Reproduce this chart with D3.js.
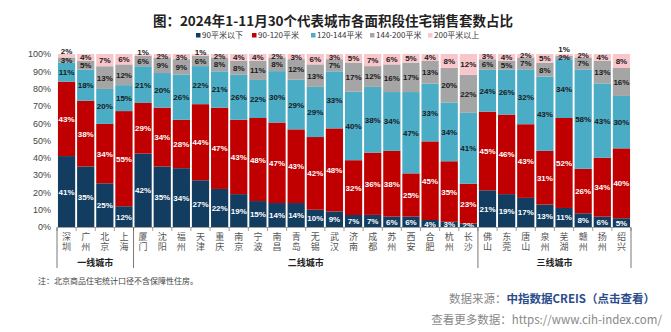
<!DOCTYPE html>
<html>
<head>
<meta charset="utf-8">
<script src="https://cdn.jsdelivr.net/npm/d3@7"></script>
<style>
  html, body { margin: 0; padding: 0; background: #fff; }
  svg { display: block; font-family: "Liberation Sans", Arial, "Noto Sans CJK SC", sans-serif; }
</style>
</head>
<body>
<svg id="chart" width="671" height="332"></svg>
<script>
const cities = ["深圳","广州","北京","上海","厦门","沈阳","福州","天津","重庆","南京","宁波","南昌","青岛","无锡","武汉","济南","成都","苏州","西安","合肥","杭州","长沙","佛山","东莞","唐山","泉州","芜湖","赣州","扬州","绍兴"];
const seriesNames = ["90平米以下","90-120平米","120-144平米","144-200平米","200平米以上"];
const below90   = [41,35,25,12,42,35,34,27,22,19,15,14,14,10, 9, 7, 7, 6, 6, 4, 3, 2,21,19,17,13,11, 8, 6, 5];
const s90to120  = [43,38,34,55,29,34,28,44,47,43,48,47,43,42,48,32,36,38,25,45,35,23,45,46,43,31,52,26,34,40];
const s120to144 = [11,18,20,15,21,20,26,22,21,26,22,30,29,29,33,40,38,34,47,33,34,41,24,26,32,43,34,58,43,30];
const s144to200 = [ 3, 5,13,12, 6, 9, 9, 6, 8, 8,11, 8,12,13, 7,17,12,16,17,13,20,22, 6, 5, 7, 8, 2, 7,13,16];
const above200  = [ 2, 4, 7, 6, 1, 2, 3, 1, 2, 4, 4, 2, 3, 6, 3, 5, 7, 6, 5, 4, 8,12, 3, 4, 2, 5, 1, 2, 4, 8];
const yTicks = [0,10,20,30,40,50,60,70,80,90,100];
const groupNames = ["一线城市","二线城市","三线城市"];
const groupSizes = [4,18,8];

const colors = ["#123d61","#c00000","#4bacc6","#a5a5a5","#f9c6cc"];
const labelColors = ["#ffffff","#ffffff","#1a1a1a","#1a1a1a","#1a1a1a"];

const svg = d3.select("#chart");

const rows = cities.map((c,i)=>({city:c, s0:below90[i], s1:s90to120[i], s2:s120to144[i], s3:s144to200[i], s4:above200[i]}));
const keys = ["s0","s1","s2","s3","s4"];
const stacked = d3.stack().keys(keys).offset(d3.stackOffsetExpand)(rows);

const x = d3.scaleBand().domain(cities).range([57, 631]).paddingInner(0.1).paddingOuter(0.05);
const y = d3.scaleLinear().domain([0,1]).range([227, 54]);

// Title
svg.append("text").attr("x", 333).attr("y", 26).attr("text-anchor","middle")
  .attr("font-size", 13.5).attr("font-weight","bold").attr("fill","#222")
  .attr("font-family","'Noto Sans CJK SC', sans-serif")
  .text("图：2024年1-11月30个代表城市各面积段住宅销售套数占比");

// Legend
const legendX = [196, 252, 311, 370, 428];
const lg = svg.append("g");
seriesNames.forEach((n,i)=>{
  const g = lg.append("g").attr("transform", `translate(${legendX[i]},38)`);
  g.append("rect").attr("x",0).attr("y",-5).attr("width",4.5).attr("height",4.5).attr("fill",colors[i]);
  g.append("text").attr("x",6).attr("y",0).attr("font-size",8).attr("fill","#333")
    .attr("font-family","'Noto Sans CJK SC', sans-serif").text(n);
});

// Bars
const layer = svg.append("g").selectAll("g").data(stacked).join("g").attr("fill",(d,i)=>colors[i]);
layer.selectAll("rect").data(d=>d).join("rect")
  .attr("x", d=>x(d.data.city))
  .attr("width", x.bandwidth())
  .attr("y", d=>y(d[1]))
  .attr("height", d=>y(d[0])-y(d[1]));

// Labels (with small vertical spacing so tiny segments don't collide)
const lab = svg.append("g");
const minGap = 8.6;
cities.forEach((c, ci)=>{
  const centers = stacked.map(ld => (y(ld[ci][0]) + y(ld[ci][1]))/2);
  for (let i=1;i<centers.length;i++){
    if (centers[i] > centers[i-1] - minGap) centers[i] = centers[i-1] - minGap;
  }
  stacked.forEach((ld, li)=>{
    const v = rows[ci][keys[li]];
    lab.append("text")
      .attr("x", x(c) + x.bandwidth()/2)
      .attr("y", centers[li] + 3)
      .attr("text-anchor","middle")
      .attr("font-size", 8).attr("font-weight","bold")
      .attr("fill", labelColors[li])
      .text(v + "%");
  });
});

// Y axis
const yAxis = d3.axisLeft(y).tickValues(yTicks.map(t=>t/100)).tickFormat(d=>Math.round(d*100)+"%").tickSize(0).tickPadding(6);
const ya = svg.append("g").attr("transform","translate(57,0)").call(yAxis);
ya.select(".domain").remove();
ya.selectAll("text").attr("font-size", 9).attr("fill","#444");

// X baseline
svg.append("line").attr("x1",57).attr("x2",631).attr("y1",227.5).attr("y2",227.5).attr("stroke","#888").attr("stroke-width",0.8);

// Category boundaries tick marks
const gap = x.step()*x.paddingInner();
const boundary = i => i < cities.length ? x(cities[i]) - gap/2 : x(cities[cities.length-1]) + x.bandwidth() + gap/2;
for (let i=0;i<=cities.length;i++){
  svg.append("line").attr("x1",boundary(i)).attr("x2",boundary(i)).attr("y1",227.5).attr("y2",231)
    .attr("stroke","#888").attr("stroke-width",0.8);
}

// Category labels (vertical text)
const cl = svg.append("g").attr("font-family","'Noto Sans CJK SC', sans-serif").attr("font-size",9).attr("fill","#555");
cities.forEach(c=>{
  const cx = x(c) + x.bandwidth()/2;
  cl.append("text").attr("x",cx).attr("y",232)
    .style("writing-mode","vertical-rl")
    .style("letter-spacing","1px")
    .attr("text-anchor","start")
    .text(c);
});

// Group separators & labels
const gsep = svg.append("g");
const sepIdx = [0];
groupSizes.forEach(s=>{ sepIdx.push(sepIdx[sepIdx.length-1]+s); });
sepIdx.forEach(i=>{
  gsep.append("line").attr("x1",boundary(i)).attr("x2",boundary(i)).attr("y1",227.5).attr("y2",268)
    .attr("stroke","#555").attr("stroke-width",0.8);
});
groupNames.forEach((g,gi)=>{
  const a = boundary(sepIdx[gi]), b = boundary(sepIdx[gi+1]);
  gsep.append("text").attr("x",(a+b)/2).attr("y",266).attr("text-anchor","middle")
    .attr("font-size",9).attr("font-weight","bold").attr("fill","#222")
    .attr("font-family","'Noto Sans CJK SC', sans-serif").text(g);
});

// Note
svg.append("text").attr("x",38).attr("y",284).attr("font-size",8).attr("fill","#444")
  .attr("font-family","'Noto Sans CJK SC', sans-serif").text("注：北京商品住宅统计口径不含保障性住房。");

// Source
const src = svg.append("text").attr("x",655).attr("y",303).attr("text-anchor","end").attr("font-size",11.5)
  .attr("font-family","'Noto Sans CJK SC', sans-serif");
src.append("tspan").attr("fill","#888").text("数据来源：");
src.append("tspan").attr("fill","#2b4c8c").attr("font-weight","bold").text("中指数据CREIS（点击查看）");

svg.append("text").attr("x",662).attr("y",324).attr("text-anchor","end").attr("font-size",11.5)
  .attr("fill","#888").attr("font-family","'Noto Sans CJK SC', sans-serif")
  .text("查看更多数据：https://www.cih-index.com/");
</script>
</body>
</html>
